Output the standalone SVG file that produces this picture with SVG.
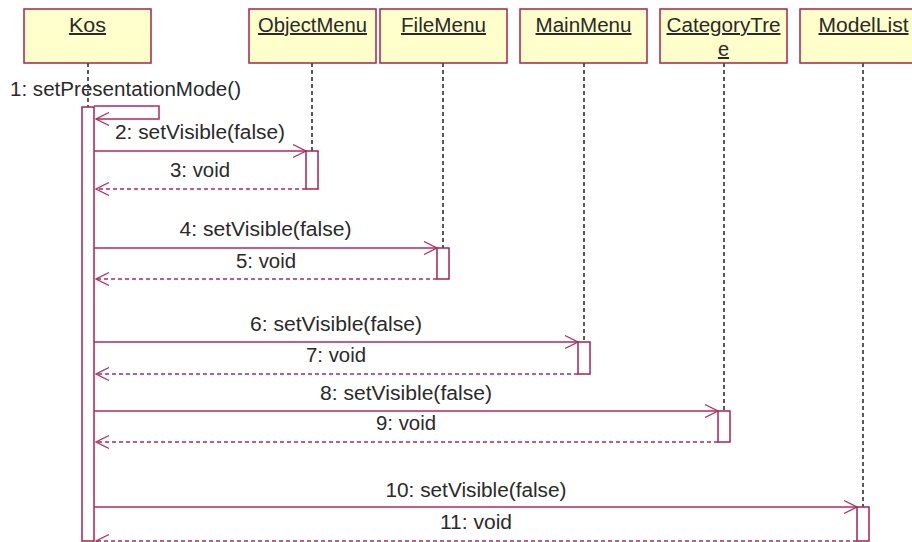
<svg xmlns="http://www.w3.org/2000/svg" width="912" height="542" viewBox="0 0 912 542">
  <style>
    .obj { fill: #FFFFCC; stroke: #A8224E; stroke-width: 1.5; }
    .name { font-family: "Liberation Sans", Arial, sans-serif; font-size: 20px; fill: #2a2a2a; text-anchor: middle; text-decoration: underline; }
    .life { stroke: #222; stroke-width: 1.5; stroke-dasharray: 4 3; fill: none; }
    .act { fill: #FFFFFF; stroke: #A8224E; stroke-width: 1.5; }
    .msg { stroke: #B02A5A; stroke-width: 1.5; fill: none; }
    .ret { stroke: #B02A5A; stroke-width: 1.5; fill: none; stroke-dasharray: 4 3; }
    .head { stroke: #B02A5A; stroke-width: 1.3; fill: none; }
    .lbl { font-family: "Liberation Sans", Arial, sans-serif; font-size: 20px; fill: #2a2a2a; }
    .c { text-anchor: middle; }
  </style>
  <defs>
    <marker id="open" markerWidth="16" markerHeight="16" refX="14" refY="8" orient="auto" markerUnits="userSpaceOnUse">
      <path d="M1,1.5 L14,8 L1,14.5" class="head"/>
    </marker>
  </defs>

  <!-- lifelines -->
  <g id="lifelines">
    <line class="life" x1="88" y1="63" x2="88" y2="107"/>
    <line class="life" x1="312" y1="63" x2="312" y2="151"/>
    <line class="life" x1="443" y1="63" x2="443" y2="248"/>
    <line class="life" x1="584" y1="63" x2="584" y2="342"/>
    <line class="life" x1="724" y1="63" x2="724" y2="411"/>
    <line class="life" x1="863" y1="63" x2="863" y2="507"/>
  </g>

  <!-- objects -->
  <g id="kos">
    <rect class="obj" x="24" y="9" width="127" height="54"/>
    <text class="name" x="87.5" y="32" textLength="37" lengthAdjust="spacingAndGlyphs">Kos</text>
    <rect class="act" x="82" y="107" width="12" height="434"/>
  </g>
  <g id="objectMenu">
    <rect class="obj" x="249" y="9" width="127" height="54"/>
    <text class="name" x="312.5" y="32" textLength="109" lengthAdjust="spacingAndGlyphs">ObjectMenu</text>
    <rect class="act" x="306" y="151" width="12" height="38"/>
  </g>
  <g id="fileMenu">
    <rect class="obj" x="380" y="9" width="127" height="54"/>
    <text class="name" x="443.5" y="32" textLength="85" lengthAdjust="spacingAndGlyphs">FileMenu</text>
    <rect class="act" x="437" y="248" width="12" height="31"/>
  </g>
  <g id="mainMenu">
    <rect class="obj" x="520" y="9" width="127" height="54"/>
    <text class="name" x="583.5" y="32" textLength="96" lengthAdjust="spacingAndGlyphs">MainMenu</text>
    <rect class="act" x="578" y="342" width="12" height="32"/>
  </g>
  <g id="categoryTree">
    <rect class="obj" x="660" y="9" width="127" height="54"/>
    <text class="name" x="723.5" y="32" textLength="114" lengthAdjust="spacingAndGlyphs">CategoryTre</text>
    <text class="name" x="723.5" y="56">e</text>
    <rect class="act" x="718" y="411" width="12" height="31"/>
  </g>
  <g id="modelList">
    <rect class="obj" x="800" y="9" width="127" height="54"/>
    <text class="name" x="863.5" y="32" textLength="90" lengthAdjust="spacingAndGlyphs">ModelList</text>
    <rect class="act" x="857" y="507" width="12" height="34"/>
  </g>

  <!-- messages -->
  <g id="connectors">
    <path class="msg" d="M94,106 H159 V119 H96" marker-end="url(#open)"/>
    <line class="msg" x1="94" y1="151" x2="306" y2="151" marker-end="url(#open)"/>
    <line class="ret" x1="306" y1="189" x2="96" y2="189" marker-end="url(#open)"/>
    <line class="msg" x1="94" y1="248" x2="437" y2="248" marker-end="url(#open)"/>
    <line class="ret" x1="437" y1="279" x2="96" y2="279" marker-end="url(#open)"/>
    <line class="msg" x1="94" y1="342" x2="578" y2="342" marker-end="url(#open)"/>
    <line class="ret" x1="578" y1="374" x2="96" y2="374" marker-end="url(#open)"/>
    <line class="msg" x1="94" y1="411" x2="718" y2="411" marker-end="url(#open)"/>
    <line class="ret" x1="718" y1="442" x2="96" y2="442" marker-end="url(#open)"/>
    <line class="msg" x1="94" y1="507" x2="857" y2="507" marker-end="url(#open)"/>
    <line class="ret" x1="857" y1="541" x2="96" y2="541" marker-end="url(#open)"/>
  </g>

  <!-- message labels -->
  <g id="labels">
    <text class="lbl" x="10" y="96" textLength="231" lengthAdjust="spacingAndGlyphs">1: setPresentationMode()</text>
    <text class="lbl c" x="200" y="139" textLength="170" lengthAdjust="spacingAndGlyphs">2: setVisible(false)</text>
    <text class="lbl c" x="200" y="177" textLength="60" lengthAdjust="spacingAndGlyphs">3: void</text>
    <text class="lbl c" x="265.5" y="236" textLength="172" lengthAdjust="spacingAndGlyphs">4: setVisible(false)</text>
    <text class="lbl c" x="266" y="268" textLength="60" lengthAdjust="spacingAndGlyphs">5: void</text>
    <text class="lbl c" x="336" y="331" textLength="172" lengthAdjust="spacingAndGlyphs">6: setVisible(false)</text>
    <text class="lbl c" x="336" y="362" textLength="60" lengthAdjust="spacingAndGlyphs">7: void</text>
    <text class="lbl c" x="406" y="400" textLength="172" lengthAdjust="spacingAndGlyphs">8: setVisible(false)</text>
    <text class="lbl c" x="406" y="430" textLength="60" lengthAdjust="spacingAndGlyphs">9: void</text>
    <text class="lbl c" x="476" y="497" textLength="181" lengthAdjust="spacingAndGlyphs">10: setVisible(false)</text>
    <text class="lbl c" x="476" y="529" textLength="72" lengthAdjust="spacingAndGlyphs">11: void</text>
  </g>
</svg>
